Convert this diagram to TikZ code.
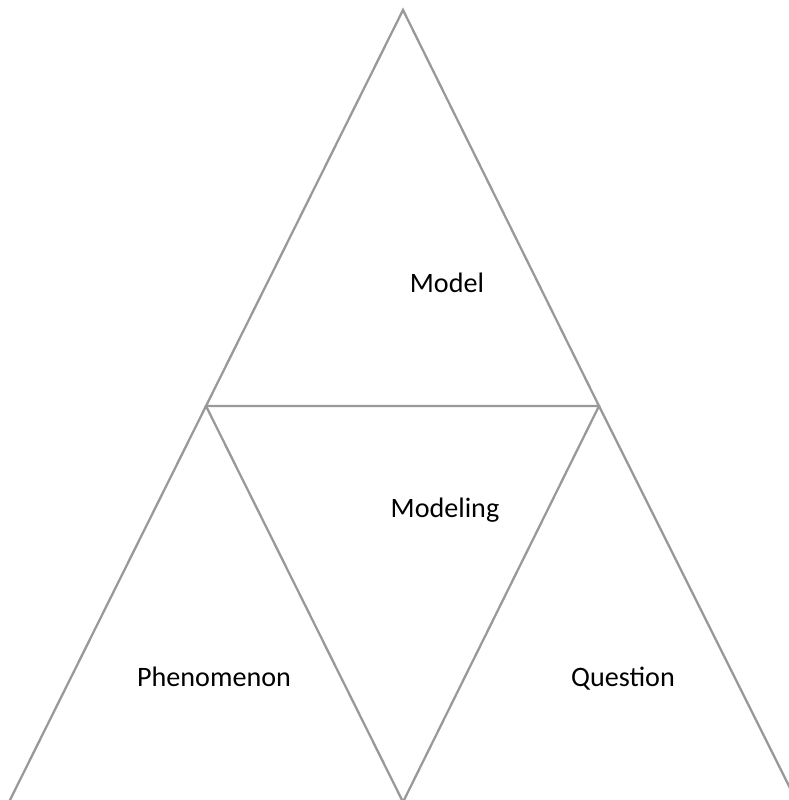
\documentclass[tikz,border=0pt]{standalone}
\usepackage{fontspec}
\setmainfont{Carlito}
\usepackage{tikz}

\begin{document}
\begin{tikzpicture}[x=0.01cm,y=-0.01cm]

		\useasboundingbox (0,0) rectangle (789,800);
		\clip (0,0) rectangle (789,800);
		\tikzset{edge/.style={draw=gray!80,line width=0.65pt,line join=miter},
			label/.style={font=\fontsize{8}{10}\selectfont,text height=1.6ex,text depth=.4ex}}

		\coordinate (top) at (403,10);
		\coordinate (ml) at (206,406);
		\coordinate (mr) at (599,406);
		\coordinate (bl) at (9,802);
		\coordinate (bm) at (403,802);
		\coordinate (br) at (797,802);

		\path[edge] (top) -- (ml) -- (mr) -- cycle;
		\path[edge] (ml) -- (bl);
		\path[edge] (ml) -- (bm) -- (mr);
		\path[edge] (mr) -- (br);

		\node[label] (model) at (447,282) {Model};
		\node[label] (modeling) at (445,507) {Modeling};
		\node[label] (phen) at (214,676) {Phenomenon};
		\node[label] (quest) at (623,676) {Question};
	\end{tikzpicture}
\end{document}
